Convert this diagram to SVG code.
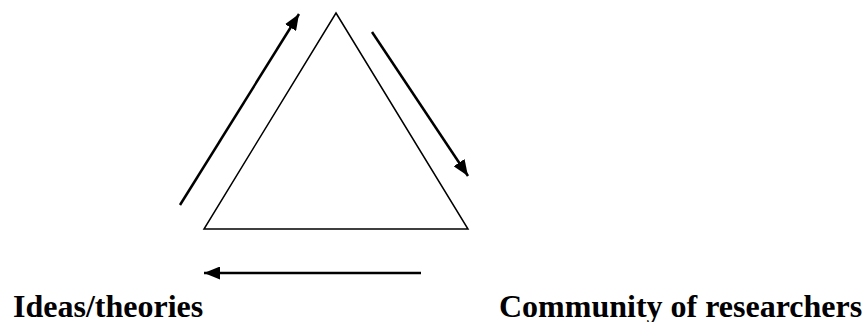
<svg xmlns="http://www.w3.org/2000/svg" width="866" height="322" viewBox="0 0 866 322">
  <defs>
    <marker id="ah" viewBox="0 0 16 13" refX="16" refY="6.5" markerWidth="16" markerHeight="13" markerUnits="userSpaceOnUse" orient="auto">
      <path d="M0,0 L16,6.5 L0,13 z" fill="#000"/>
    </marker>
    <style>
      .tri { fill: none; stroke: #000; stroke-width: 1.5; stroke-linejoin: miter; }
      .arr { fill: none; stroke: #000; stroke-width: 2.5; marker-end: url(#ah); }
      .lbl { font-family: "Liberation Serif", "Times New Roman", serif; font-weight: bold; font-size: 32px; fill: #000; }
    </style>
  </defs>
  <rect width="866" height="322" fill="#fff"/>
  <g id="triangle">
    <polygon class="tri" points="336,13 468,229 204,229"/>
  </g>
  <g id="connectors">
    <line class="arr" x1="180" y1="205" x2="299" y2="14"/>
    <line class="arr" x1="372" y1="32" x2="468" y2="176"/>
    <line class="arr" x1="421" y1="273" x2="204" y2="273"/>
  </g>
  <g id="ideas">
    <text class="lbl" x="13" y="316.5">Ideas/theories</text>
  </g>
  <g id="community">
    <text class="lbl" x="499" y="316.5">Community of researchers</text>
  </g>
</svg>
